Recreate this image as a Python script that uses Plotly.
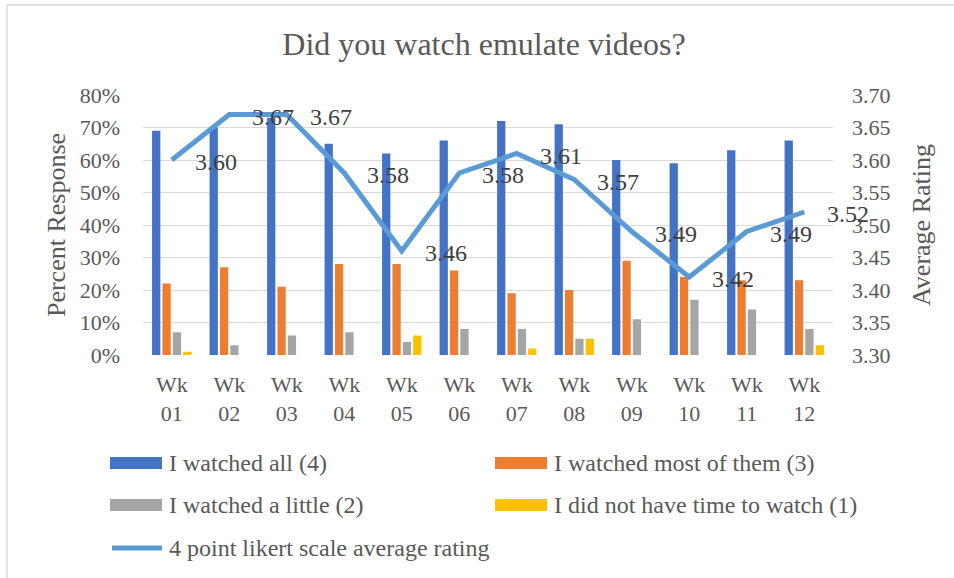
import plotly.graph_objects as go

weeks = ["Wk 01", "Wk 02", "Wk 03", "Wk 04", "Wk 05", "Wk 06",
         "Wk 07", "Wk 08", "Wk 09", "Wk 10", "Wk 11", "Wk 12"]
week_ticktext = ["Wk<br>01", "Wk<br>02", "Wk<br>03", "Wk<br>04", "Wk<br>05", "Wk<br>06",
                 "Wk<br>07", "Wk<br>08", "Wk<br>09", "Wk<br>10", "Wk<br>11", "Wk<br>12"]

watched_all = [0.69, 0.70, 0.73, 0.65, 0.62, 0.66, 0.72, 0.71, 0.60, 0.59, 0.63, 0.66]
watched_most = [0.22, 0.27, 0.21, 0.28, 0.28, 0.26, 0.19, 0.20, 0.29, 0.24, 0.23, 0.23]
watched_little = [0.07, 0.03, 0.06, 0.07, 0.04, 0.08, 0.08, 0.05, 0.11, 0.17, 0.14, 0.08]
no_time = [0.01, 0.00, 0.00, 0.00, 0.06, 0.00, 0.02, 0.05, 0.00, 0.00, 0.00, 0.03]
avg_rating = [3.60, 3.67, 3.67, 3.58, 3.46, 3.58, 3.61, 3.57, 3.49, 3.42, 3.49, 3.52]

bar_names = ["I watched all (4)", "I watched most of them (3)",
             "I watched a little (2)", "I did not have time to watch (1)"]
line_name = "4 point likert scale average rating"
bar_colors = ["#4472C4", "#ED7D31", "#A5A5A5", "#FFC000"]
line_color = "#5B9BD5"

FONT = "Liberation Serif, Times New Roman, serif"
TXT = "#595959"

W, H = 954, 578
ML, MR, MT, MB = 143, 121, 95, 223
PW, PH = W - ML - MR, H - MT - MB


def px(xp):
    return (xp - ML) / PW


def py(yp):
    return (H - MB - yp) / PH


fig = go.Figure()
for name, vals, col in zip(bar_names, [watched_all, watched_most, watched_little, no_time], bar_colors):
    fig.add_trace(go.Bar(x=weeks, y=vals, name=name, marker=dict(color=col, line=dict(width=0)),
                         yaxis="y", showlegend=False))

fig.add_trace(go.Scatter(x=weeks, y=avg_rating, name=line_name, mode="lines",
                         line=dict(color=line_color, width=5), yaxis="y2", showlegend=False))

for wk, v in zip(weeks, avg_rating):
    fig.add_annotation(x=wk, y=v, xref="x", yref="y2", text=f"{v:.2f}", showarrow=False,
                       xanchor="left", yanchor="middle", xshift=21, yshift=-2,
                       font=dict(family=FONT, size=24, color="#404040"))

# chart border
fig.add_shape(type="rect", xref="paper", yref="paper",
              x0=px(7), x1=px(975), y0=py(5), y1=py(600),
              line=dict(color="#D9D9D9", width=1.5), fillcolor="rgba(0,0,0,0)", layer="below")

# legend (two columns, then the line entry)
legend_slots = [(110, 463), (495, 463), (110, 505), (495, 505)]
for (lx, ly), name, col in zip(legend_slots, bar_names, bar_colors):
    fig.add_shape(type="rect", xref="paper", yref="paper",
                  x0=px(lx), x1=px(lx + 52), y0=py(ly - 6), y1=py(ly + 6),
                  line=dict(width=0), fillcolor=col)
    fig.add_annotation(x=px(lx + 57), y=py(ly), xref="paper", yref="paper", text=name,
                       showarrow=False, xanchor="left", yanchor="middle",
                       font=dict(family=FONT, size=24, color=TXT))
fig.add_shape(type="line", xref="paper", yref="paper",
              x0=px(112), x1=px(162), y0=py(548), y1=py(548),
              line=dict(color=line_color, width=5))
fig.add_annotation(x=px(167), y=py(548), xref="paper", yref="paper", text=line_name,
                   showarrow=False, xanchor="left", yanchor="middle",
                   font=dict(family=FONT, size=24, color=TXT))

fig.update_layout(
    width=W, height=H,
    margin=dict(l=ML, r=MR, t=MT, b=MB),
    paper_bgcolor="white", plot_bgcolor="white",
    font=dict(family=FONT, color=TXT, size=22),
    title=dict(text="Did you watch emulate videos?", x=484 / W, xref="container", xanchor="center",
               y=1 - 44 / H, yref="container", yanchor="middle",
               font=dict(family=FONT, size=32, color=TXT)),
    barmode="group", bargap=0.28, bargroupgap=0.2,
    xaxis=dict(tickmode="array", tickvals=weeks, ticktext=week_ticktext,
               range=[-0.5, len(weeks) - 0.5], autorange=False, automargin=False,
               showgrid=False, showline=False, zeroline=False, ticks="",
               tickfont=dict(family=FONT, size=22, color=TXT), ticklabelstandoff=14),
    yaxis=dict(range=[0, 0.8], dtick=0.1, tickformat=".0%", showgrid=True, automargin=False,
               gridcolor="#D9D9D9", gridwidth=1.3, zeroline=False, showline=False, ticks="",
               tickfont=dict(family=FONT, size=22, color=TXT), ticklabelstandoff=22,
               title=dict(text="Percent Response", font=dict(family=FONT, size=26, color=TXT), standoff=6)),
    yaxis2=dict(range=[3.30, 3.70], dtick=0.05, tickformat=".2f", overlaying="y", side="right",
                showgrid=False, zeroline=False, showline=False, ticks="", automargin=False,
                tickfont=dict(family=FONT, size=22, color=TXT), ticklabelstandoff=18,
                title=dict(text="Average Rating", font=dict(family=FONT, size=26, color=TXT), standoff=22)),
    showlegend=False,
)

fig.write_html("out.html", config={"displayModeBar": False},
               post_script="document.body.style.margin='0';document.body.style.overflow='hidden';")
